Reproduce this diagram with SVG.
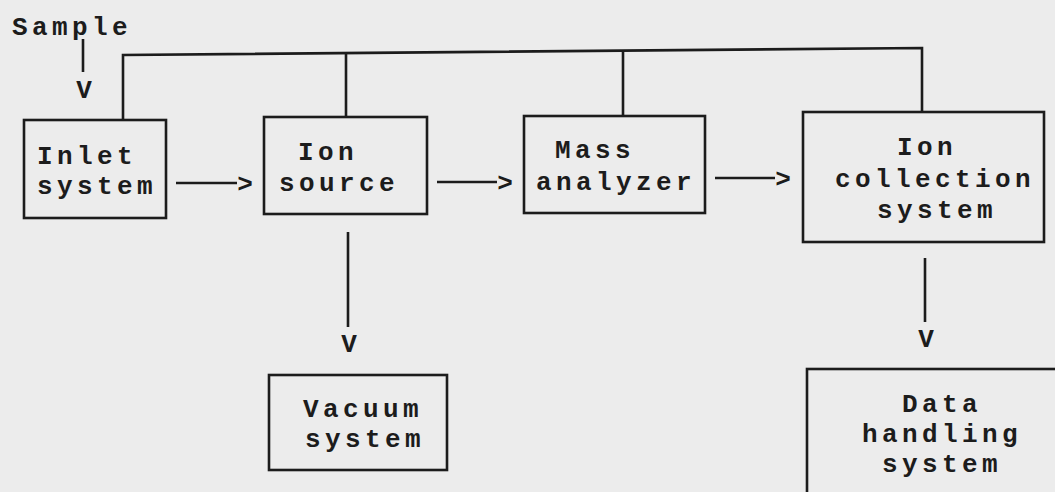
<svg xmlns="http://www.w3.org/2000/svg" width="1055" height="492" viewBox="0 0 1055 492">
<style>
.bg{fill:#ececec}
.box{fill:none;stroke:#1c1c1c;stroke-width:2.6}
.ln{fill:none;stroke:#1c1c1c;stroke-width:2.6}
.t{font-family:"Liberation Mono","Courier New",monospace;font-weight:bold;font-size:26px;letter-spacing:4.4px;fill:#1c1c1c}
.h{font-family:"Liberation Mono","Courier New",monospace;font-weight:bold;font-size:26px;fill:#1c1c1c;text-anchor:middle}
</style>
<rect class="bg" x="0" y="0" width="1055" height="492"/>
<g id="connectors">
  <text class="t" x="12" y="35">Sample</text>
  <line class="ln" x1="83" y1="39" x2="83" y2="72"/>
  <text class="h" x="84" y="98">V</text>
  <path class="ln" d="M123,121 L123,55 L922,48 L922,112"/>
  <line class="ln" x1="346" y1="53" x2="346" y2="117"/>
  <line class="ln" x1="623" y1="51" x2="623" y2="116"/>
  <line class="ln" x1="176" y1="183" x2="237" y2="183"/>
  <text class="h" x="245" y="192">&gt;</text>
  <line class="ln" x1="437" y1="182" x2="497" y2="182"/>
  <text class="h" x="505" y="191">&gt;</text>
  <line class="ln" x1="715" y1="178" x2="775" y2="178"/>
  <text class="h" x="783" y="187">&gt;</text>
  <line class="ln" x1="348" y1="232" x2="348" y2="327"/>
  <text class="h" x="349" y="352">V</text>
  <line class="ln" x1="925" y1="258" x2="925" y2="322"/>
  <text class="h" x="926" y="347">V</text>
</g>
<g id="inlet">
  <rect class="box" x="24" y="120" width="142" height="98"/>
  <text class="t" x="37" y="164">Inlet</text>
  <text class="t" x="37" y="194">system</text>
</g>
<g id="ion-source">
  <rect class="box" x="264" y="117" width="163" height="97"/>
  <text class="t" x="298" y="160">Ion</text>
  <text class="t" x="279" y="191">source</text>
</g>
<g id="mass-analyzer">
  <rect class="box" x="524" y="116" width="181" height="97"/>
  <text class="t" x="555" y="158">Mass</text>
  <text class="t" x="536" y="190">analyzer</text>
</g>
<g id="ion-collection">
  <rect class="box" x="803" y="112" width="241" height="130"/>
  <text class="t" x="897" y="155">Ion</text>
  <text class="t" x="835" y="187">collection</text>
  <text class="t" x="877" y="218">system</text>
</g>
<g id="vacuum">
  <rect class="box" x="269" y="375" width="178" height="95"/>
  <text class="t" x="303" y="417">Vacuum</text>
  <text class="t" x="305" y="447">system</text>
</g>
<g id="data-handling">
  <rect class="box" x="807" y="369" width="260" height="140"/>
  <text class="t" x="902" y="412">Data</text>
  <text class="t" x="862" y="442">handling</text>
  <text class="t" x="882" y="472">system</text>
</g>
</svg>
